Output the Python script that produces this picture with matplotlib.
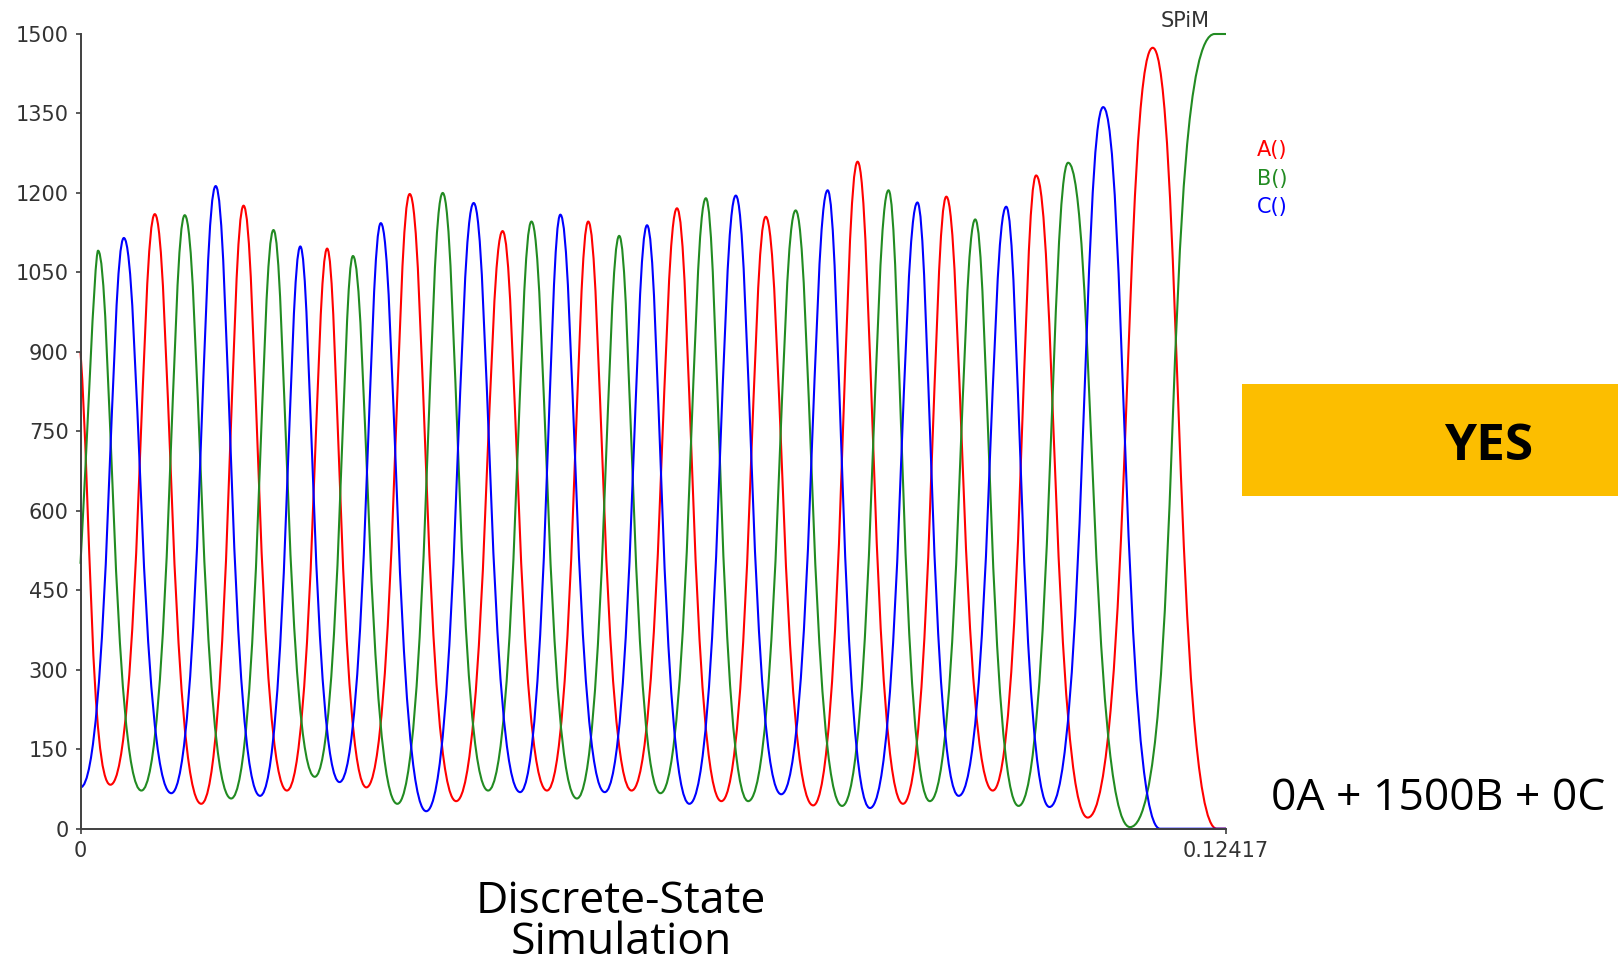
import matplotlib
matplotlib.use("Agg")
import matplotlib.pyplot as plt
from matplotlib.path import Path
from matplotlib.patches import PathPatch, Rectangle
import numpy as np

# ---------------- data ----------------
# extrema (time, molecule count) of each species
a_time = [0.0, 0.003244, 0.008054, 0.013088, 0.017675, 0.022373, 0.026736, 0.030987,
          0.035685, 0.040719, 0.045753, 0.050563, 0.055037, 0.059736, 0.064658,
          0.069468, 0.074278, 0.079424, 0.084234, 0.089156, 0.093855, 0.098889,
          0.103587, 0.109181, 0.116228, 0.123163, 0.12417]
a_value = [900, 83, 1160, 47, 1176, 72, 1095, 78, 1198, 52, 1128, 72, 1146, 72, 1171,
           52, 1155, 44, 1259, 47, 1193, 72, 1233, 21, 1474, 0, 0]

b_time = [0.0, 0.001902, 0.0066, 0.011298, 0.016332, 0.020919, 0.025393, 0.029532,
          0.034342, 0.039264, 0.044187, 0.048885, 0.053807, 0.058394, 0.062868,
          0.06779, 0.072377, 0.077522, 0.082556, 0.08759, 0.092065, 0.096987,
          0.101685, 0.107055, 0.113767, 0.122941, 0.12417]
b_value = [500, 1091, 72, 1158, 57, 1130, 98, 1081, 47, 1200, 72, 1146, 57, 1119, 67,
           1190, 52, 1167, 43, 1205, 52, 1150, 43, 1257, 3, 1500, 1500]

c_time = [0.0, 0.004698, 0.009844, 0.014654, 0.019465, 0.023827, 0.028078, 0.032553,
          0.037475, 0.042621, 0.047655, 0.052017, 0.056827, 0.061414, 0.066001,
          0.071035, 0.075957, 0.08099, 0.085577, 0.090723, 0.095197, 0.100343,
          0.105041, 0.110859, 0.11701, 0.12417]
c_value = [78, 1115, 67, 1213, 62, 1099, 88, 1143, 33, 1181, 69, 1159, 69, 1139, 47,
           1195, 65, 1205, 39, 1182, 62, 1174, 41, 1362, 0, 0]

series_names = ["A()", "B()", "C()"]
series_colors = ["#ff0000", "#228b22", "#0000ff"]

x_max = 0.12417
y_ticks = [0, 150, 300, 450, 600, 750, 900, 1050, 1200, 1350, 1500]
x_ticks = [0, x_max]
x_tick_labels = ["0", "0.12417"]

# ---------------- figure ----------------
W, H = 1618, 966
fig = plt.figure(figsize=(W / 100, H / 100), dpi=100)
fig.patch.set_facecolor("white")

ax = fig.add_axes([80.5 / W, 1 - 828.7 / H, (1226 - 80.5) / W, (828.7 - 34) / H])
ax.set_xlim(0, x_max)
ax.set_ylim(0, 1500)


def smooth_path(ts, vs, peak_k=0.3, flat_k=0.65):
    """Smooth curve through the extrema, drawn as cubic Bezier segments
    with horizontal tangents at each extremum."""
    n = len(ts)
    d_ref = float(np.median(np.diff(ts)[1:-1]))
    kinds = []
    for i in range(n):
        if 0 < i < n - 1 and vs[i] > vs[i - 1] and vs[i] > vs[i + 1]:
            kinds.append("peak")
        elif i == 0 and vs[0] > 200:
            kinds.append("slope")
        else:
            kinds.append("flat")

    def k_of(kind, d):
        if kind == "peak":
            return float(np.clip(peak_k * d / d_ref, 0.2, 0.5))
        return flat_k

    verts = [(ts[0], vs[0])]
    codes = [Path.MOVETO]
    for i in range(n - 1):
        t0, v0, t3, v3 = ts[i], vs[i], ts[i + 1], vs[i + 1]
        d = t3 - t0
        if kinds[i] == "slope":
            c1 = (t0 + d / 3, v0 + (v3 - v0) / 3)
        else:
            c1 = (t0 + k_of(kinds[i], d) * d, v0)
        c2 = (t3 - k_of(kinds[i + 1], d) * d, v3)
        verts += [c1, c2, (t3, v3)]
        codes += [Path.CURVE4] * 3
    return Path(verts, codes)


for ts, vs, col in [(a_time, a_value, series_colors[0]),
                    (b_time, b_value, series_colors[1]),
                    (c_time, c_value, series_colors[2])]:
    ax.add_patch(PathPatch(smooth_path(ts, vs), fill=False, edgecolor=col,
                           lw=1.5, joinstyle="round", clip_on=False))

for s in ["top", "right"]:
    ax.spines[s].set_visible(False)
for s in ["left", "bottom"]:
    ax.spines[s].set_color("#404040")
    ax.spines[s].set_linewidth(1.4)

tick_font = "DejaVu Sans"
ax.set_yticks(y_ticks)
ax.set_yticklabels([str(v) for v in y_ticks], fontfamily=tick_font, fontsize=15,
                   color="#333333")
ax.set_xticks(x_ticks)
ax.set_xticklabels(x_tick_labels, fontfamily=tick_font, fontsize=15, color="#333333")
ax.tick_params(axis="both", direction="out", length=3.6, width=1.2, colors="#404040",
               labelcolor="#333333", pad=5)

# header and legend
fig.text(1185 / W, 1 - 27 / H, "SPiM", ha="center", va="baseline", fontsize=15,
         fontfamily=tick_font, color="#333333")
for i, (name, col) in enumerate(zip(series_names, series_colors)):
    fig.text(1257 / W, 1 - (156 + 28.5 * i) / H, name, ha="left", va="baseline",
             fontsize=15, fontfamily=tick_font, color=col)

# orange banner
fig.add_artist(Rectangle((1242 / W, 1 - 496 / H), (W - 1242) / W, 112 / H,
                         transform=fig.transFigure, facecolor="#fcbe00",
                         edgecolor="none"))
fig.text(1489 / W, 1 - 460 / H, "YES", ha="center", va="baseline", fontsize=37,
         fontfamily="Open Sans", fontweight="bold", color="black")

fig.text(1438.5 / W, 1 - 810 / H, "0A + 1500B + 0C", ha="center", va="baseline",
         fontsize=32, fontfamily="Open Sans", color="black")
fig.text(621 / W, 1 - 965.5 / H, "Discrete-State\nSimulation", ha="center",
         va="bottom", multialignment="center", linespacing=0.9,
         fontsize=32, fontfamily="Open Sans", color="black")

fig.savefig("out.png", dpi=100, facecolor="white")
